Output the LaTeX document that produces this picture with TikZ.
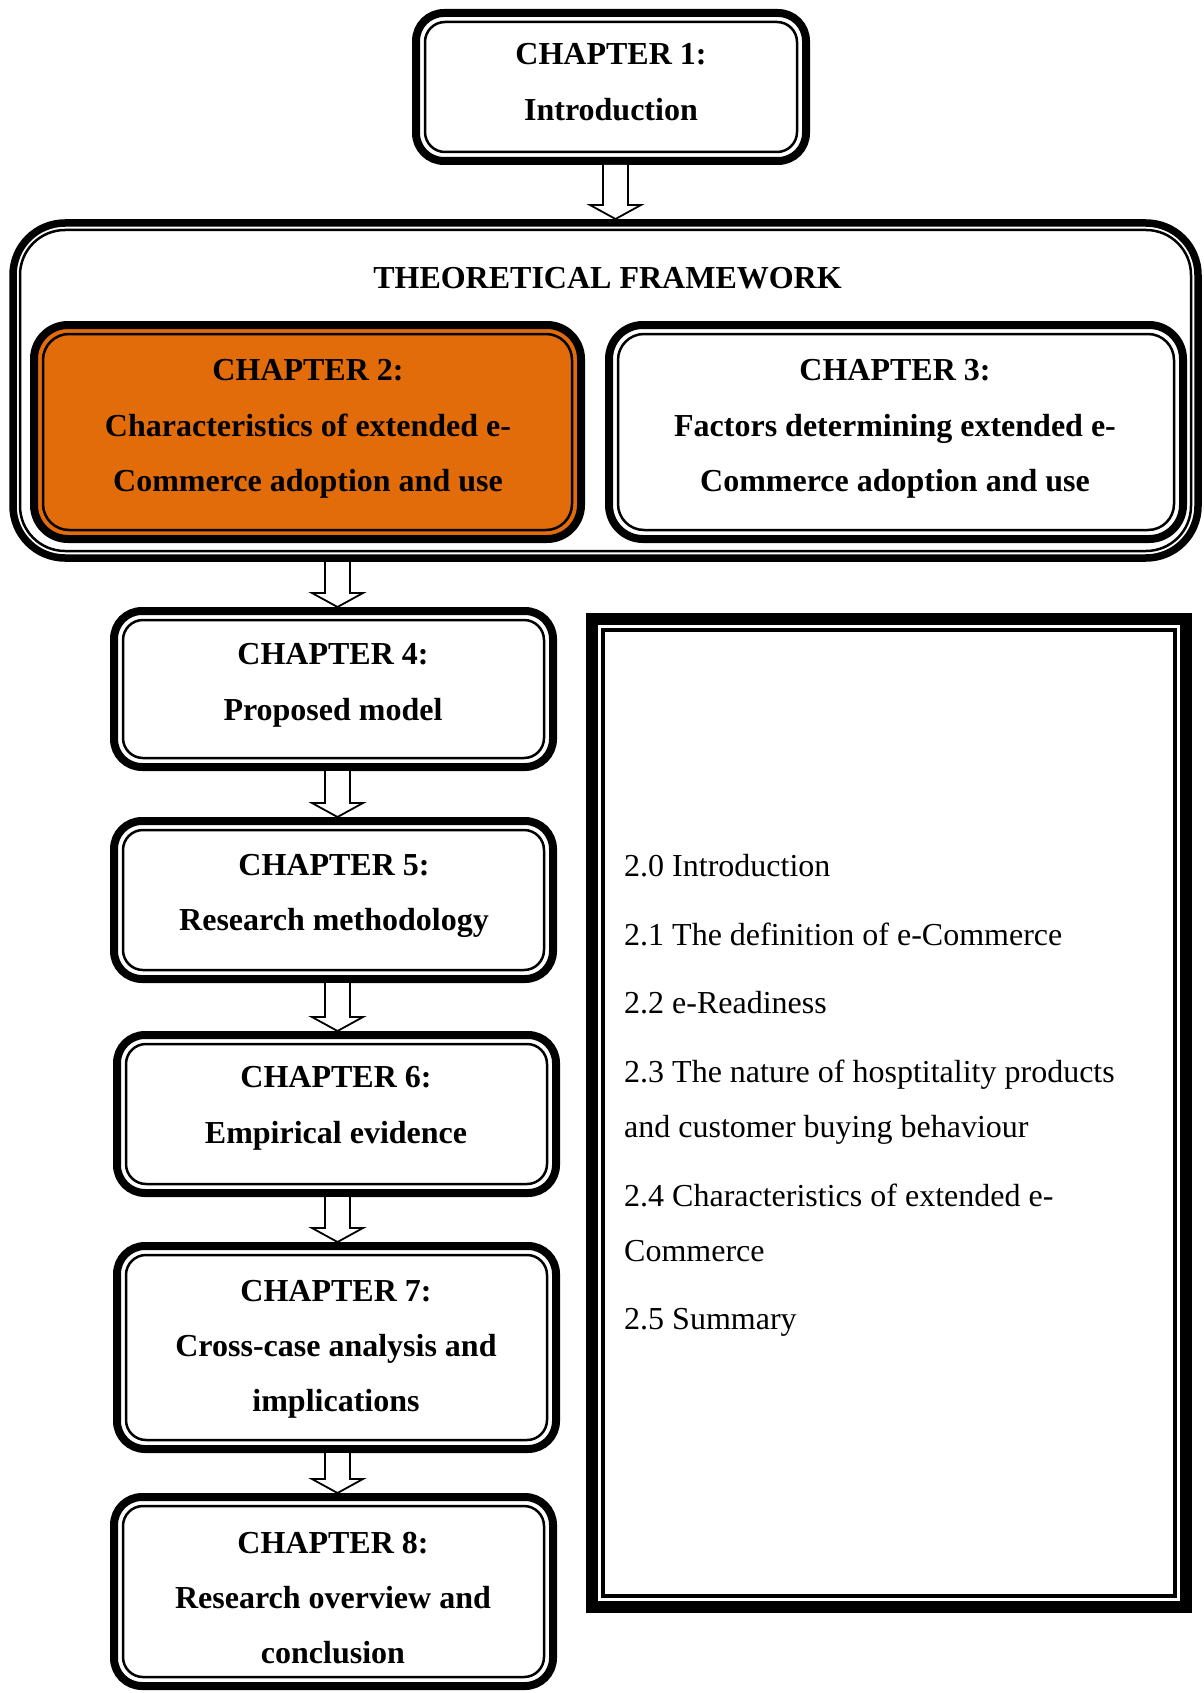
\documentclass[tikz,border=0pt]{standalone}
\usepackage{fontspec}
\setmainfont{Liberation Serif}
\usetikzlibrary{calc}
\definecolor{chorange}{HTML}{E36C0A}
\tikzset{
  chbox/.style={draw=black, line width=8pt, rounded corners=28pt, fill=white, inner sep=0pt, outer sep=0pt},
  bigchbox/.style={chbox, rounded corners=34pt},
  fwbox/.style={draw=black, line width=7.5pt, rounded corners=52pt, fill=white, inner sep=0pt, outer sep=0pt},
  listbox/.style={draw=black, line width=12pt, fill=white, inner sep=0pt, outer sep=0pt},
  thinframe/.style={draw=black, line width=2.5pt, rounded corners=20pt},
  bigthinframe/.style={thinframe, rounded corners=26pt},
  fwthin/.style={draw=black, line width=2.5pt, rounded corners=45pt},
  listthin/.style={draw=black, line width=3.5pt},
  chtext/.style={font=\fontsize{32}{55.3}\selectfont\bfseries, align=center, inner sep=0pt, text depth=0pt},
  itemtext/.style={font=\fontsize{32}{38}\selectfont, anchor=base west, inner sep=0pt},
  blockarr/.style={draw=black, line width=1.8pt, fill=white, line join=miter},
}
\newcommand{\innerframe}[3]{\draw[#3] ($(#1.north west)+(#2,#2)$) rectangle ($(#1.south east)-(#2,#2)$);}
% #1 from node, #2 to node, #3 node giving x, #4 x offset
\newcommand{\blockarrow}[4]{%
  \draw[blockarr] let \p1=(#1.south), \p2=(#2.north), \p3=(#3.center) in
    (\x3+#4-12.5pt,\y1-4pt) -- (\x3+#4-12.5pt,\y2+18pt) -- (\x3+#4-25.5pt,\y2+18pt)
    -- (\x3+#4,\y2+4pt) -- (\x3+#4+25.5pt,\y2+18pt) -- (\x3+#4+12.5pt,\y2+18pt)
    -- (\x3+#4+12.5pt,\y1-4pt);
}
\begin{document}
\begin{tikzpicture}[x=1pt,y=-1pt]
\useasboundingbox (0,0) rectangle (1203,1693);

% boxes
\node[chbox, minimum width=390pt, minimum height=148pt] (ch1) at (611,87) {};
\node[fwbox, minimum width=1185pt, minimum height=335pt] (fw) at (605.5,390.5) {};
\node[bigchbox, fill=chorange, minimum width=547pt, minimum height=214pt] (ch2) at (307.5,432) {};
\node[bigchbox, minimum width=574pt, minimum height=214pt] (ch3) at (896,432) {};
\node[chbox, minimum width=439pt, minimum height=156pt] (ch4) at (333.5,689) {};
\node[chbox, minimum width=439pt, minimum height=158pt] (ch5) at (333.5,900) {};
\node[chbox, minimum width=439pt, minimum height=158pt] (ch6) at (336.5,1114) {};
\node[chbox, minimum width=439pt, minimum height=203pt] (ch7) at (336.5,1347.5) {};
\node[chbox, minimum width=439pt, minimum height=189pt] (ch8) at (333.5,1591.5) {};
\node[listbox, minimum width=594pt, minimum height=988pt] (lst) at (889,1113) {};

% inner thin frames
\innerframe{ch1}{9}{thinframe}
\innerframe{fw}{7}{fwthin}
\innerframe{ch2}{9}{bigthinframe}
\innerframe{ch3}{9}{bigthinframe}
\innerframe{ch4}{9}{thinframe}
\innerframe{ch5}{9}{thinframe}
\innerframe{ch6}{9}{thinframe}
\innerframe{ch7}{9}{thinframe}
\innerframe{ch8}{9}{thinframe}
\innerframe{lst}{11}{listthin}

% arrows
\blockarrow{ch1}{fw}{ch1}{4.5pt}
\blockarrow{fw}{ch4}{ch4}{4pt}
\blockarrow{ch4}{ch5}{ch4}{4pt}
\blockarrow{ch5}{ch6}{ch5}{4pt}
\blockarrow{ch6}{ch7}{ch6}{1pt}
\blockarrow{ch7}{ch8}{ch7}{1pt}

% texts
\node[chtext] (t1) at (611,82) {CHAPTER 1:\\Introduction};
\node[chtext] (tfw) at (607.5,277.5) {THEORETICAL FRAMEWORK};
\node[chtext] (t2) at (308,425.5) {CHAPTER 2:\\Characteristics of extended e-\\Commerce adoption and use};
\node[chtext] (t3) at (895,425.5) {CHAPTER 3:\\Factors determining extended e-\\Commerce adoption and use};
\node[chtext] (t4) at (333,682) {CHAPTER 4:\\Proposed model};
\node[chtext] (t5) at (334,892.5) {CHAPTER 5:\\Research methodology};
\node[chtext] (t6) at (336,1105) {CHAPTER 6:\\Empirical evidence};
\node[chtext] (t7) at (336,1346) {CHAPTER 7:\\Cross-case analysis and\\implications};
\node[chtext] (t8) at (333,1598) {CHAPTER 8:\\Research overview and\\conclusion};

% list in right box
\node[itemtext] (i0) at (624,876) {2.0 Introduction};
\node[itemtext] (i1) at (624,945) {2.1 The definition of e-Commerce};
\node[itemtext] (i2) at (624,1013) {2.2 e-Readiness};
\node[itemtext] (i3a) at (624,1082) {2.3 The nature of hosptitality products};
\node[itemtext] (i3b) at (624,1137) {and customer buying behaviour};
\node[itemtext] (i4a) at (624,1206) {2.4 Characteristics of extended e-};
\node[itemtext] (i4b) at (624,1261.5) {Commerce};
\node[itemtext] (i5) at (624,1329.5) {2.5 Summary};
\end{tikzpicture}
\end{document}
